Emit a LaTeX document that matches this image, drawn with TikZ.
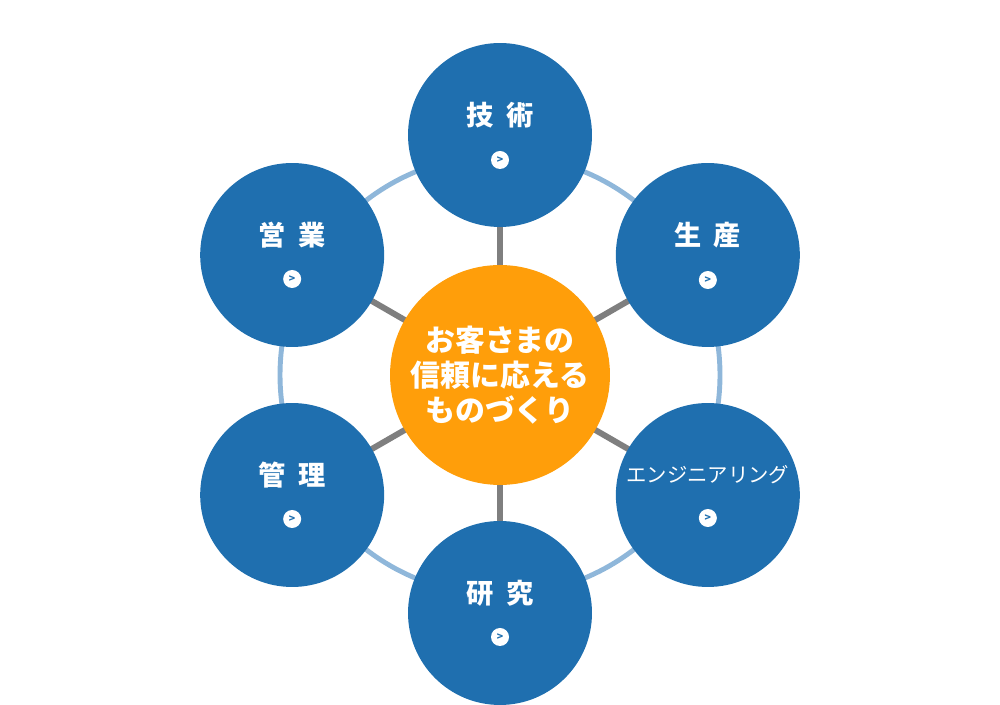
\documentclass[tikz,border=0pt]{standalone}
\usepackage{fontspec}
\usepackage{xcolor}
\usepackage{tikz}
\usetikzlibrary{positioning,calc,backgrounds}
\newfontfamily\jp{Noto Sans CJK JP}
\definecolor{petalblue}{RGB}{31,111,175}
\definecolor{hubor}{RGB}{255,158,10}
\definecolor{spoke}{RGB}{127,127,127}
\definecolor{ringblue}{RGB}{143,183,218}
\tikzset{
    petal/.style={circle,fill=petalblue,minimum size=3.68cm,inner sep=0pt},
    hubc/.style={circle,fill=hubor,minimum size=4.4cm,inner sep=0pt,text=white,align=center,font=\jp\bfseries\fontsize{17}{19.8}\selectfont},
    ttl/.style={text=white,font=\jp\bfseries\fontsize{15.5}{18}\selectfont,inner sep=0pt},
    ttlsm/.style={text=white,font=\jp\fontsize{11.6}{14}\selectfont,inner sep=0pt},
    more/.style={circle,fill=white,minimum size=0.36cm,inner sep=0pt,text=petalblue,font=\jp\bfseries\fontsize{6}{6}\selectfont},
    ring/.style={draw=ringblue,line width=2.8pt},
    spk/.style={draw=spoke,line width=3.4pt},
}

\begin{document}
\begin{tikzpicture}[x=0.02cm,y=0.02cm]
\useasboundingbox (0,0) rectangle (1000,705);
\node[hubc] (hub) at (500,330) {お客さまの\\信頼に応える\\ものづくり};

\node[petal] (tech) at ($(hub)+(90:240)$)   {};
\node[petal] (prod) at ($(hub)+(30:240)$)   {};
\node[petal] (eng)  at ($(hub)+(-30:240)$)  {};
\node[petal] (res)  at ($(hub)+(-90:238)$)  {};
\node[petal] (mgmt) at ($(hub)+(-150:240)$) {};
\node[petal] (sales) at ($(hub)+(150:240)$) {};

\node[ttl]   (techT)  at ($(tech)+(0,20)$)  {技\hspace{.45em}術};
\node[ttl]   (prodT)  at ($(prod)+(0,20)$)  {生\hspace{.45em}産};
\node[ttlsm] (engT)   at ($(eng)+(0,20)$)   {エンジニアリング};
\node[ttl]   (resT)   at ($(res)+(0,20)$)   {研\hspace{.45em}究};
\node[ttl]   (mgmtT)  at ($(mgmt)+(0,20)$)  {管\hspace{.45em}理};
\node[ttl]   (salesT) at ($(sales)+(0,20)$) {営\hspace{.45em}業};

\node[more] (techM)  at ($(tech)+(0,-25)$)  {>};
\node[more] (prodM)  at ($(prod)+(0,-25)$)  {>};
\node[more] (engM)   at ($(eng)+(0,-23)$)   {>};
\node[more] (resM)   at ($(res)+(0,-24)$)   {>};
\node[more] (mgmtM)  at ($(mgmt)+(0,-24)$)  {>};
\node[more] (salesM) at ($(sales)+(0,-24)$) {>};

\begin{pgfonlayer}{background}
\draw[ring] (hub.center) circle (220);
\draw[spk] (hub.center) -- (tech.center);
\draw[spk] (hub.center) -- (prod.center);
\draw[spk] (hub.center) -- (eng.center);
\draw[spk] (hub.center) -- (res.center);
\draw[spk] (hub.center) -- (mgmt.center);
\draw[spk] (hub.center) -- (sales.center);
\end{pgfonlayer}
\end{tikzpicture}
\end{document}
